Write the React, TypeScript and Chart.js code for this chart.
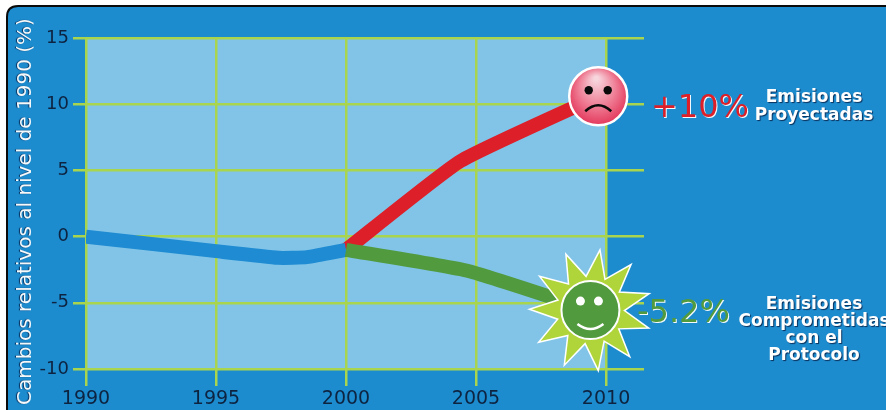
import React, { useEffect, useRef } from "react";
import { Chart, registerables } from "chart.js";

Chart.register(...registerables);

const xTicks = [1990, 1995, 2000, 2005, 2010];
const yTicks = [-10, -5, 0, 5, 10, 15];
const yTitle = "Cambios relativos al nivel de 1990 (%)";

const histX = [1990, 1995, 1997.4, 1998.5, 2000];
const histY = [0, -1.1, -1.6, -1.55, -1.0];
const projX = [2000, 2004.4, 2009.7];
const projY = [-1.0, 5.7, 10.6];
const commitX = [2000, 2004.7, 2009.4];
const commitY = [-1.0, -2.6, -5.55];

const projPct = "+10%";
const commitPct = "-5.2%";
const projLabel = ["Emisiones", "Proyectadas"];
const commitLabel = ["Emisiones", "Comprometidas", "con el", "Protocolo"];

const pts = (xs: number[], ys: number[]) => xs.map((x, i) => ({ x, y: ys[i] }));

const CARD = "#1c8ccf";
const PANEL = "#81c4e8";
const GRID = "#a9d44e";
const INK = "#0d2340";
const RED = "#dc1f28";
const GREEN = "#529a3e";

function drawSad(ctx: CanvasRenderingContext2D, cx: number, cy: number) {
  const r = 29;
  const g = ctx.createRadialGradient(cx - 2, cy - 18, 2, cx, cy, r + 6);
  g.addColorStop(0, "#f7d5dd");
  g.addColorStop(0.5, "#ef7f96");
  g.addColorStop(1, "#e0234a");
  ctx.beginPath();
  ctx.arc(cx, cy, r, 0, Math.PI * 2);
  ctx.fillStyle = g;
  ctx.fill();
  ctx.lineWidth = 2.5;
  ctx.strokeStyle = "#fff";
  ctx.stroke();
  ctx.fillStyle = "#0a0a0a";
  for (const dx of [-9.5, 9.5]) {
    ctx.beginPath();
    ctx.arc(cx + dx, cy - 6, 4.2, 0, Math.PI * 2);
    ctx.fill();
  }
  ctx.beginPath();
  ctx.moveTo(cx - 13, cy + 15);
  ctx.quadraticCurveTo(cx, cy + 3, cx + 13, cy + 15);
  ctx.lineWidth = 2.5;
  ctx.strokeStyle = "#0a0a0a";
  ctx.stroke();
}

function drawSun(ctx: CanvasRenderingContext2D, cx: number, cy: number) {
  const n = 11;
  const start = (-81 * Math.PI) / 180;
  ctx.beginPath();
  for (let i = 0; i < n * 2; i++) {
    const a = start + (i * Math.PI) / n;
    const rad = i % 2 === 0 ? 61 : 34;
    const px = cx + rad * Math.cos(a);
    const py = cy + rad * Math.sin(a);
    if (i === 0) ctx.moveTo(px, py);
    else ctx.lineTo(px, py);
  }
  ctx.closePath();
  ctx.fillStyle = "#b0d53b";
  ctx.fill();
  ctx.lineWidth = 1.5;
  ctx.strokeStyle = "#fff";
  ctx.stroke();
  ctx.beginPath();
  ctx.arc(cx, cy, 29, 0, Math.PI * 2);
  ctx.fillStyle = GREEN;
  ctx.fill();
  ctx.lineWidth = 2;
  ctx.strokeStyle = "#fff";
  ctx.stroke();
  ctx.fillStyle = "#fff";
  for (const dx of [-10, 8]) {
    ctx.beginPath();
    ctx.arc(cx + dx, cy - 9, 4.5, 0, Math.PI * 2);
    ctx.fill();
  }
  ctx.beginPath();
  ctx.moveTo(cx - 13, cy + 14);
  ctx.quadraticCurveTo(cx, cy + 24, cx + 13, cy + 14);
  ctx.lineWidth = 2.5;
  ctx.strokeStyle = "#fff";
  ctx.stroke();
}

const decor = {
  id: "decor",
  beforeDraw(chart: any) {
    const ctx: CanvasRenderingContext2D = chart.ctx;
    const { x, y } = chart.scales;
    ctx.save();
    ctx.fillStyle = "#fff";
    ctx.fillRect(0, 0, 886, 410);
    ctx.beginPath();
    ctx.moveTo(7, 412);
    ctx.lineTo(7, 17);
    ctx.quadraticCurveTo(7, 6, 18, 6);
    ctx.lineTo(888, 6);
    ctx.lineTo(888, 412);
    ctx.closePath();
    ctx.fillStyle = CARD;
    ctx.fill();
    ctx.lineWidth = 2;
    ctx.strokeStyle = "#0a0a0a";
    ctx.stroke();
    const l = x.getPixelForValue(xTicks[0]);
    const r = x.getPixelForValue(xTicks[xTicks.length - 1]);
    ctx.fillStyle = PANEL;
    ctx.fillRect(l, y.top, r - l, y.bottom - y.top);
    ctx.restore();

    const s = y as any;
    if (!s.__wrapped) {
      s.__wrapped = true;
      const orig = s.drawTitle.bind(s);
      s.drawTitle = (...args: any[]) => {
        const c: CanvasRenderingContext2D = s.ctx;
        c.save();
        c.translate(0, 8);
        c.shadowColor = "rgba(5,30,70,0.9)";
        c.shadowOffsetX = -1;
        c.shadowOffsetY = 0;
        c.shadowBlur = 1;
        orig(...args);
        c.restore();
      };
    }
  },
  afterDraw(chart: any) {
    const ctx: CanvasRenderingContext2D = chart.ctx;
    const { x, y } = chart.scales;
    const last = (a: number[]) => a[a.length - 1];
    drawSad(ctx, x.getPixelForValue(last(projX)), y.getPixelForValue(last(projY)));
    drawSun(ctx, x.getPixelForValue(last(commitX)), y.getPixelForValue(last(commitY)));

    ctx.save();
    ctx.textBaseline = "alphabetic";
    ctx.textAlign = "left";
    ctx.font = "32px 'DejaVu Sans'";
    ctx.shadowColor = "rgba(255,255,255,0.95)";
    ctx.shadowOffsetX = 1;
    ctx.shadowOffsetY = 1;
    ctx.shadowBlur = 0;
    ctx.fillStyle = RED;
    ctx.fillText(projPct, 651, 117);
    ctx.fillStyle = GREEN;
    ctx.fillText(commitPct, 637, 322);

    ctx.textAlign = "center";
    ctx.font = "bold 17px 'DejaVu Sans'";
    ctx.fillStyle = "#fff";
    ctx.shadowColor = "rgba(5,30,70,0.85)";
    ctx.shadowOffsetX = 1;
    ctx.shadowOffsetY = 1;
    ctx.shadowBlur = 1;
    projLabel.forEach((t, i) => ctx.fillText(t, 814, 102 + i * 18));
    commitLabel.forEach((t, i) => ctx.fillText(t, 814, 309 + i * 17));
    ctx.restore();
  },
};

export default function App() {
  const ref = useRef<HTMLCanvasElement>(null);
  useEffect(() => {
    const line = (label: string, data: any[], color: string) => ({
      label,
      data,
      borderColor: color,
      borderWidth: 14,
      pointRadius: 0,
      tension: 0.15,
      borderCapStyle: "butt" as const,
      borderJoinStyle: "round" as const,
      fill: false,
    });
    const chart = new Chart(ref.current!, {
      type: "line",
      data: {
        datasets: [
          line("Comprometidas", pts(commitX, commitY), GREEN),
          line("Histórico", pts(histX, histY), "#1e8bd2"),
          line("Proyectadas", pts(projX, projY), RED),
        ],
      },
      options: {
        animation: false,
        responsive: false,
        layout: { padding: { top: 38, right: 242, left: 0, bottom: 0 } },
        plugins: { legend: { display: false }, tooltip: { enabled: false } },
        scales: {
          x: {
            type: "linear",
            min: 1990,
            max: 2011.46,
            afterBuildTicks: (s: any) => {
              s.ticks = xTicks.map((value) => ({ value }));
            },
            afterFit: (s: any) => {
              s.height = 41;
            },
            border: { display: false },
            grid: { color: GRID, lineWidth: 2.5, tickLength: 17, tickColor: GRID },
            ticks: {
              color: INK,
              font: { family: "'DejaVu Sans'", size: 19 },
              padding: 2,
              maxRotation: 0,
              autoSkip: false,
              callback: (v: any) => String(v),
            },
          },
          y: {
            type: "linear",
            min: yTicks[0],
            max: yTicks[yTicks.length - 1],
            afterBuildTicks: (s: any) => {
              s.ticks = yTicks.map((value) => ({ value }));
            },
            afterFit: (s: any) => {
              s.width = 86;
            },
            border: { display: false },
            grid: { color: GRID, lineWidth: 2.5, tickLength: 13, tickColor: GRID },
            ticks: {
              color: INK,
              font: { family: "'DejaVu Sans'", size: 18 },
              padding: 4,
              autoSkip: false,
            },
            title: {
              display: true,
              text: yTitle,
              color: "#f4f9fc",
              font: { family: "'DejaVu Sans'", size: 20 },
              padding: { top: 14, bottom: 0 },
            },
          },
        },
      },
      plugins: [decor],
    } as any);
    return () => chart.destroy();
  }, []);
  return (
    <div style={{ position: "absolute", left: 0, top: 0, width: 886, height: 410 }}>
      <canvas ref={ref} width={886} height={410} style={{ display: "block" }} />
    </div>
  );
}
